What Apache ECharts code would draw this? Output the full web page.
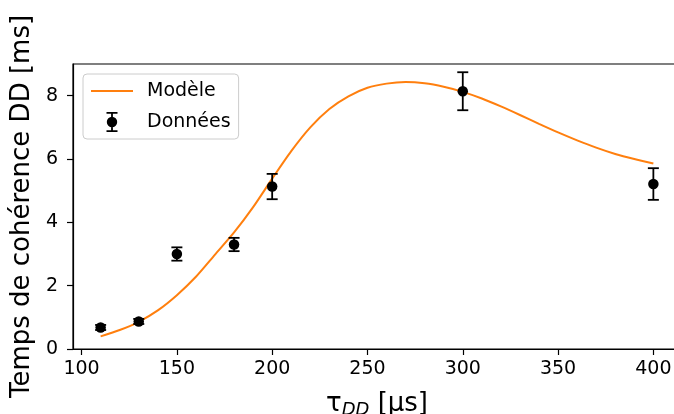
<!DOCTYPE html>
<html>
<head>
<meta charset="utf-8">
<script src="https://cdn.jsdelivr.net/npm/echarts@6/dist/echarts.min.js"></script>
<style>
html,body{margin:0;padding:0;background:#fff;}
#chart{width:674px;height:414px;}
</style>
</head>
<body>
<div id="chart"></div>
<script>
// Measured data (τ_DD in µs, coherence time in ms)
const tau = [110, 130, 150, 180, 200, 300, 400];
const coherence = [0.68, 0.87, 3.0, 3.3, 5.13, 8.14, 5.21];
const errors = [0.08, 0.08, 0.21, 0.21, 0.40, 0.60, 0.50];

// Model curve
const modelTau = [110, 120, 130, 140, 150, 160, 170, 180, 190, 200, 210, 220, 230, 240, 250, 260, 270, 280, 290, 300, 310, 320, 330, 340, 350, 360, 370, 380, 390, 400];
const modelValues = [0.40, 0.60, 0.86, 1.22, 1.70, 2.28, 2.98, 3.68, 4.48, 5.38, 6.25, 7.00, 7.58, 7.98, 8.25, 8.38, 8.43, 8.39, 8.28, 8.12, 7.91, 7.66, 7.39, 7.11, 6.84, 6.59, 6.36, 6.16, 6.00, 5.86];

const xTicks = [100, 150, 200, 250, 300, 350, 400];
const yTicks = [0, 2, 4, 6, 8];

const FONT = 'DejaVu Sans';
const chart = echarts.init(document.getElementById('chart'), null, {renderer: 'canvas'});

const errData = tau.map((t, i) => [t, coherence[i], errors[i]]);
const dotData = tau.map((t, i) => [t, coherence[i]]);
const modelData = modelTau.map((t, i) => [t, modelValues[i]]);

const donneesIcon = 'path://M0,0 L11,0 L11,1.8 L0,1.8 Z M0,18.2 L11,18.2 L11,20 L0,20 Z M4.6,0 L6.4,0 L6.4,20 L4.6,20 Z M0.3,10 A5.2,5.2 0 1,1 10.7,10 A5.2,5.2 0 1,1 0.3,10 Z';
const modeleIcon = 'path://M0,0 L42,0 L42,2 L0,2 Z';

chart.setOption({
  animation: false,
  backgroundColor: '#ffffff',
  textStyle: {fontFamily: FONT},
  grid: {
    left: 73, top: 64, width: 608, height: 285,
    outerBoundsMode: 'none',
    containLabel: false,
    show: true, borderColor: '#000', borderWidth: 1.2, backgroundColor: 'transparent'
  },
  legend: {
    orient: 'vertical',
    left: 83, top: 74,
    padding: [7, 8, 7, 8],
    itemWidth: 42, itemHeight: 20, itemGap: 11,
    backgroundColor: 'rgba(255,255,255,0.8)',
    borderColor: '#cccccc', borderWidth: 1, borderRadius: 4,
    symbolKeepAspect: true,
    textStyle: {fontFamily: FONT, fontSize: 19, color: '#000', lineHeight: 20, padding: [0, 0, 0, 9]},
    data: [
      {name: 'Modèle', icon: modeleIcon},
      {name: 'Données', icon: donneesIcon}
    ]
  },
  xAxis: {
    type: 'value',
    min: 95.5, max: 414.5,
    name: 'τ{sub|DD} [µs]',
    nameLocation: 'middle',
    nameGap: 40,
    nameTextStyle: {
      fontFamily: FONT, fontSize: 26, color: '#000', verticalAlign: 'top',
      rich: {sub: {fontFamily: FONT, fontSize: 18, fontStyle: 'italic', color: '#000', padding: [12, 0, 0, 0]}}
    },
    axisLine: {show: true, onZero: false, lineStyle: {color: '#000', width: 1.2}},
    axisTick: {show: true, inside: false, length: 6, customValues: xTicks, lineStyle: {color: '#000', width: 1.2}},
    axisLabel: {show: true, margin: 11, customValues: xTicks, fontFamily: FONT, fontSize: 19, color: '#000'},
    splitLine: {show: false}
  },
  yAxis: {
    type: 'value',
    min: 0, max: 9,
    name: 'Temps de cohérence DD [ms]',
    nameLocation: 'middle',
    nameRotate: 90,
    nameGap: 32,
    nameTextStyle: {fontFamily: FONT, fontSize: 26, color: '#000'},
    axisLine: {show: true, onZero: false, lineStyle: {color: '#000', width: 1.2}},
    axisTick: {show: true, inside: false, length: 6, customValues: yTicks, lineStyle: {color: '#000', width: 1.2}},
    axisLabel: {show: true, margin: 15, customValues: yTicks, fontFamily: FONT, fontSize: 19, color: '#000'},
    splitLine: {show: false}
  },
  series: [
    {
      name: 'Modèle',
      type: 'line',
      data: modelData,
      showSymbol: false,
      symbol: 'none',
      smooth: 0.25,
      color: '#ff7f0e',
      lineStyle: {color: '#ff7f0e', width: 2},
      itemStyle: {color: '#ff7f0e'},
      z: 2
    },
    {
      name: 'Données-err',
      type: 'custom',
      data: errData,
      encode: {x: 0, y: 1},
      renderItem: function (params, api) {
        const x = api.value(0), y = api.value(1), e = api.value(2);
        const top = api.coord([x, y + e]);
        const bot = api.coord([x, y - e]);
        const cw = 5.5;
        const st = {stroke: '#000', lineWidth: 1.8};
        return {
          type: 'group',
          children: [
            {type: 'line', shape: {x1: top[0], y1: top[1], x2: bot[0], y2: bot[1]}, style: st},
            {type: 'line', shape: {x1: top[0] - cw, y1: top[1], x2: top[0] + cw, y2: top[1]}, style: st},
            {type: 'line', shape: {x1: bot[0] - cw, y1: bot[1], x2: bot[0] + cw, y2: bot[1]}, style: st}
          ]
        };
      },
      z: 3
    },
    {
      name: 'Données',
      type: 'scatter',
      data: dotData,
      symbol: 'circle',
      symbolSize: 10.5,
      color: '#000',
      itemStyle: {color: '#000', opacity: 1},
      z: 4
    }
  ]
});
</script>
</body>
</html>
